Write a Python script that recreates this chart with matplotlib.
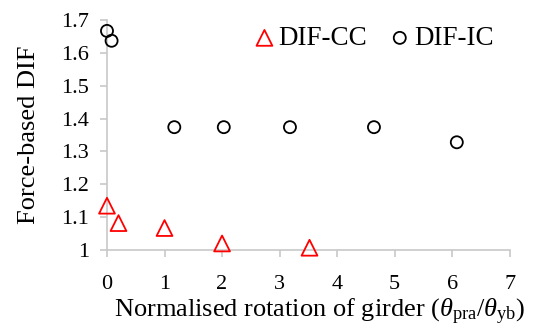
import matplotlib
matplotlib.use("Agg")
import matplotlib.pyplot as plt

plt.rcParams['font.family'] = ['Liberation Serif', 'DejaVu Serif']
plt.rcParams['mathtext.fontset'] = 'custom'
plt.rcParams['mathtext.rm'] = 'Liberation Serif'
plt.rcParams['mathtext.it'] = 'Liberation Serif:italic'
plt.rcParams['mathtext.bf'] = 'Liberation Serif:bold'

cc_x = [0.0, 0.2, 1.0, 2.0, 3.52]
cc_y = [1.135, 1.082, 1.067, 1.02, 1.007]
ic_x = [0.0, 0.08, 1.17, 2.03, 3.18, 4.64, 6.08]
ic_y = [1.667, 1.637, 1.374, 1.374, 1.374, 1.374, 1.328]
x_ticks = [0, 1, 2, 3, 4, 5, 6, 7]
y_ticks = [1.0, 1.1, 1.2, 1.3, 1.4, 1.5, 1.6, 1.7]
y_labels = ['1', '1.1', '1.2', '1.3', '1.4', '1.5', '1.6', '1.7']

fig = plt.figure(figsize=(5.36, 3.29), dpi=100)
ax = fig.add_axes([0.1996, 0.240, 0.7514, 0.699])

ax.scatter(cc_x, cc_y, marker='^', s=130, facecolors='none', edgecolors='#ff0000',
           linewidths=1.3, label='DIF-CC', clip_on=False, zorder=3)
ax.scatter(ic_x, ic_y, marker='o', s=75, facecolors='none', edgecolors='black',
           linewidths=1.3, label='DIF-IC', clip_on=False, zorder=3)

ax.set_xlim(0, 7)
ax.set_ylim(1.0, 1.7)
ax.set_xticks(x_ticks)
ax.set_yticks(y_ticks)
ax.set_yticklabels(y_labels)
for s in ['top', 'right']:
    ax.spines[s].set_visible(False)
for s in ['left', 'bottom']:
    ax.spines[s].set_color('#c8c8c8')
    ax.spines[s].set_linewidth(1.2)
ax.tick_params(axis='both', colors='#c8c8c8', length=5, width=1.2, labelsize=16,
               labelcolor='black')
ax.tick_params(axis='x', pad=13)
ax.tick_params(axis='y', pad=8)

ax.set_ylabel('Force-based DIF', fontsize=19, labelpad=15)
ax.set_xlabel(r'Normalised rotation of girder ($\mathit{\theta}_{\mathrm{pra}}$/$\mathit{\theta}_{\mathrm{yb}}$)',
              fontsize=19, labelpad=2, x=0.529)

ax.legend(loc='upper right', ncol=2, frameon=False, fontsize=19.5, handlelength=0.8,
          handletextpad=0.12, columnspacing=0.8, bbox_to_anchor=(1.0, 1.045),
          borderaxespad=0.2)

fig.savefig('out.png', dpi=100)
